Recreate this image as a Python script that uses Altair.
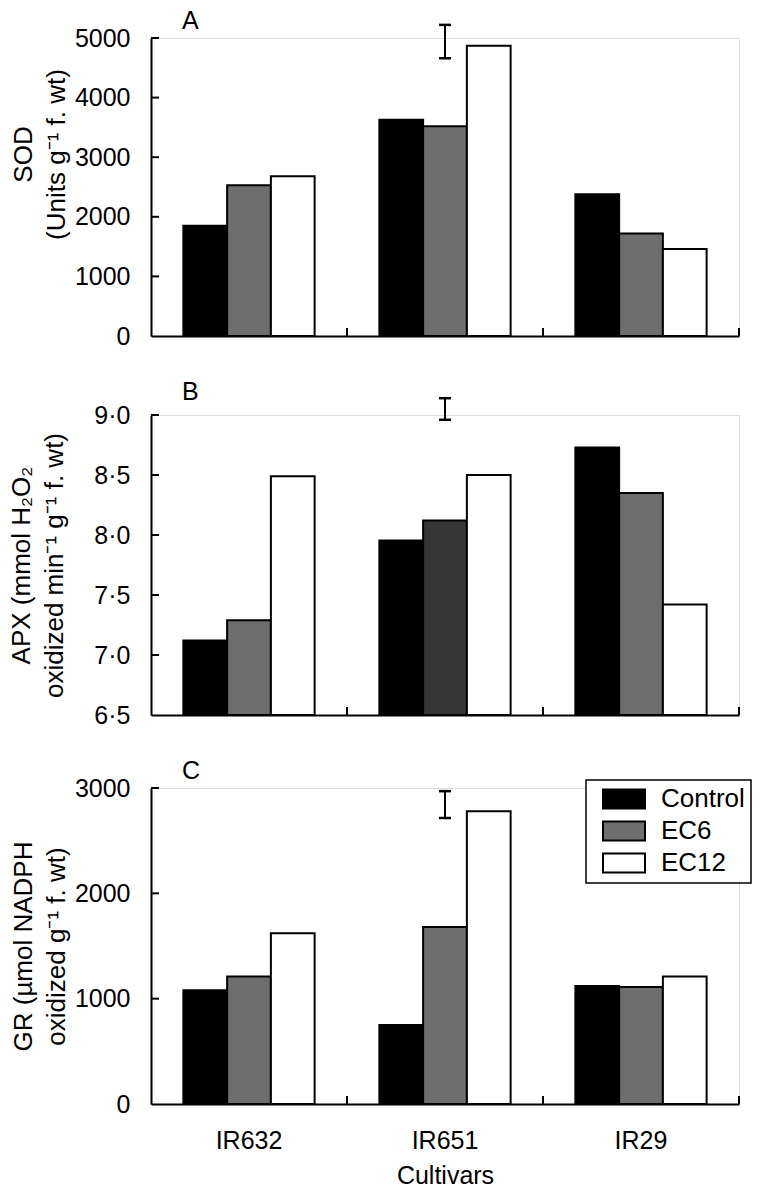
import altair as alt
import pandas as pd

cultivars = ["IR632", "IR651", "IR29"]
treatments = ["Control", "EC6", "EC12"]

# values per cultivar: [Control, EC6, EC12]
sod_values = [[1850, 2530, 2680], [3630, 3520, 4870], [2380, 1720, 1460]]
apx_values = [[7.12, 7.29, 8.49], [7.955, 8.12, 8.50], [8.73, 8.35, 7.42]]
gr_values = [[1080, 1210, 1620], [750, 1680, 2780], [1120, 1110, 1210]]

# LSD bars (low, high) drawn above IR651
sod_lsd = [4660, 5220]
apx_lsd = [8.96, 9.14]
gr_lsd = [2715, 2970]

sod_ticks = [0, 1000, 2000, 3000, 4000, 5000]
apx_ticks = [6.5, 7.0, 7.5, 8.0, 8.5, 9.0]
gr_ticks = [0, 1000, 2000, 3000]

sod_title = ["SOD", "(Units g\u207b\u00b9 f. wt)"]
apx_title = ["APX (mmol H\u2082O\u2082", "oxidized min\u207b\u00b9 g\u207b\u00b9 f. wt)"]
gr_title = ["GR (\u00b5mol NADPH", "oxidized g\u207b\u00b9 f. wt)"]

FONT = "Liberation Sans"
W = 588


def make_panel(values, ticks, ytitle, letter, lsd, height, show_x, title_pad, title_offset,
               label_expr, title_y=None, dark_cond=None, show_legend=False):
    rows = []
    for ci, c in enumerate(cultivars):
        for ti, t in enumerate(treatments):
            rows.append({"cultivar": c, "treatment": t, "value": values[ci][ti]})
    df = pd.DataFrame(rows)
    lo = ticks[0]
    hi = ticks[-1]

    yaxis_kwargs = dict(
        values=ticks, ticks=False, grid=False, domainColor="black", domainWidth=2,
        labelFont=FONT, labelFontSize=25, labelColor="black", labelPadding=21,
        labelExpr=label_expr,
        title=ytitle, titleFont=FONT, titleFontSize=26, titleFontWeight="normal",
        titleColor="black", titlePadding=title_pad, titleLineHeight=33,
    )
    if title_y is not None:
        yaxis_kwargs["titleY"] = title_y

    xaxis = alt.Axis(
        ticks=False, grid=False, domainColor="black", domainWidth=2,
        labels=show_x, labelFont=FONT, labelFontSize=25, labelColor="black",
        labelAngle=0, labelPadding=24,
        title="Cultivars" if show_x else None, titleFont=FONT, titleFontSize=25,
        titleFontWeight="normal", titleColor="black", titlePadding=10,
    )

    xenc = alt.X("cultivar:N", sort=cultivars,
                 scale=alt.Scale(paddingInner=0, paddingOuter=0), axis=xaxis)
    yenc = alt.Y("value:Q", scale=alt.Scale(domain=[lo, hi], zero=False, nice=False),
                 axis=alt.Axis(**yaxis_kwargs))

    if show_legend:
        legend = alt.Legend(
            title=None, orient="none", legendX=435, legendY=-8,
            symbolType="M-0.2,-0.95H4.0V0.95H-0.2Z", symbolSize=400,
            symbolStrokeColor="black", symbolStrokeWidth=2, symbolOpacity=1,
            labelFont=FONT, labelFontSize=26, labelColor="black", labelOffset=43,
            padding=6, rowPadding=4, titlePadding=0, strokeColor="black",
            fillColor="white",
        )
    else:
        legend = None

    color = alt.Color("treatment:N", sort=treatments,
                      scale=alt.Scale(domain=treatments, range=["#000000", "#6e6e6e", "#ffffff"]),
                      legend=legend)
    if dark_cond:
        color = alt.condition(dark_cond, alt.value("#363636"), color)

    bars = alt.Chart(df).mark_bar(stroke="black", strokeWidth=2).encode(
        x=xenc,
        xOffset=alt.XOffset("treatment:N", sort=treatments,
                            scale=alt.Scale(paddingInner=0, paddingOuter=0.74)),
        y=yenc,
        y2=alt.datum(lo),
        color=color,
    )

    # inward y ticks
    ytick_df = pd.DataFrame({"value": ticks[1:]})
    yticks = alt.Chart(ytick_df).mark_rule(color="black", strokeWidth=2).encode(
        y=alt.Y("value:Q"), x=alt.value(0), x2=alt.value(8)
    )

    # inward x ticks at the band edges
    xtick_df = pd.DataFrame({"cultivar": cultivars})
    xticks = alt.Chart(xtick_df).mark_rule(color="black", strokeWidth=2).encode(
        x=alt.X("cultivar:N", sort=cultivars, bandPosition=1),
        y=alt.value(height), y2=alt.value(height - 8),
    )

    # LSD bar
    lsd_df = pd.DataFrame({"cultivar": ["IR651"], "lo": [lsd[0]], "hi": [lsd[1]]})
    lsd_rule = alt.Chart(lsd_df).mark_rule(color="black", strokeWidth=2).encode(
        x=alt.X("cultivar:N", sort=cultivars), y=alt.Y("lo:Q"), y2="hi:Q"
    )
    cap_df = pd.DataFrame({"cultivar": ["IR651", "IR651"], "value": lsd})
    lsd_caps = alt.Chart(cap_df).mark_tick(color="black", orient="horizontal",
                                          size=12, thickness=2.5, opacity=1).encode(
        x=alt.X("cultivar:N", sort=cultivars), y=alt.Y("value:Q")
    )

    return alt.layer(bars, yticks, xticks, lsd_rule, lsd_caps).properties(
        width=W, height=height,
        title=alt.TitleParams(letter, anchor="start", frame="group", font=FONT, fontSize=25,
                              fontWeight="normal", color="black", dx=31, offset=title_offset),
    )


int_expr = "format(datum.value, 'd')"
dot_expr = "replace(format(datum.value, '.1f'), '.', '\u00b7')"

pa = make_panel(sod_values, sod_ticks, sod_title, "A", sod_lsd, 298, False, 5, -10,
                int_expr, title_y=116)
pb = make_panel(apx_values, apx_ticks, apx_title, "B", apx_lsd, 300, False, 26, -8,
                dot_expr,
                dark_cond="datum.cultivar == 'IR651' && datum.treatment == 'EC6'")
pc = make_panel(gr_values, gr_ticks, gr_title, "C", gr_lsd, 316, True, 5, -8,
                int_expr, show_legend=True)

chart = alt.vconcat(pa, pb, pc, spacing=29).resolve_legend(color="independent").properties(
    padding={"left": 0, "top": 0, "right": 0, "bottom": 0}
).configure_view(stroke=None).configure(background="white").configure_legend(strokeWidth=1.5)

chart.save("out.html", embed_options={"renderer": "svg", "actions": False})
